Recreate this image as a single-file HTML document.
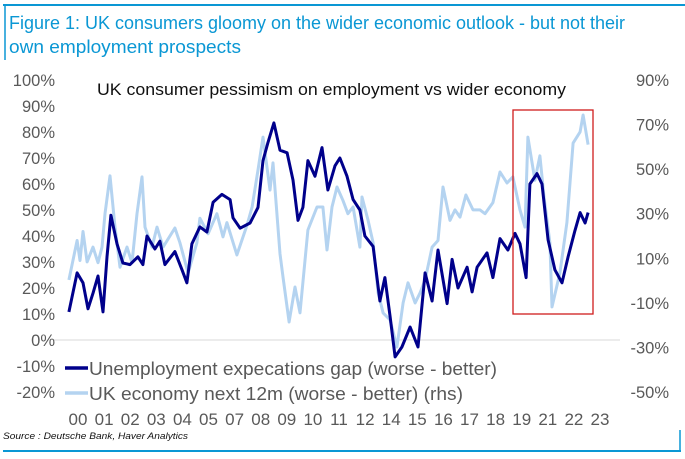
<!DOCTYPE html>
<html><head><meta charset="utf-8">
<style>
html,body{margin:0;padding:0;background:#fff;width:685px;height:459px;overflow:hidden;font-family:"Liberation Sans",sans-serif;}
svg text{font-family:"Liberation Sans",sans-serif;}
</style></head>
<body>
<svg id="chart" width="685" height="459" viewBox="0 0 685 459" xmlns="http://www.w3.org/2000/svg">
  <line x1="3" y1="5" x2="685" y2="5" stroke="#0a97d4" stroke-width="2"/>
  <line x1="5" y1="5" x2="5" y2="60" stroke="#0a97d4" stroke-width="1.5"/>
  <text x="9" y="29" font-size="18" fill="#0a97d4" textLength="616" lengthAdjust="spacingAndGlyphs">Figure 1: UK consumers gloomy on the wider economic outlook - but not their</text>
  <text x="9" y="53" font-size="18" fill="#0a97d4" textLength="232" lengthAdjust="spacingAndGlyphs">own employment prospects</text>
  <text x="97" y="95" font-size="17" fill="#111" textLength="469" lengthAdjust="spacingAndGlyphs">UK consumer pessimism on employment vs wider economy</text>
  <g id="axes"></g>
  <g id="series"></g>
  <rect x="513" y="110" width="80" height="204" fill="none" stroke="#d01c1c" stroke-width="1.3"/>
  <g>
    <line x1="65" y1="368" x2="88" y2="368" stroke="#00008b" stroke-width="3.5"/>
    <text x="89" y="375" font-size="18" fill="#595959" textLength="408" lengthAdjust="spacingAndGlyphs">Unemployment expecations gap (worse - better)</text>
    <line x1="65" y1="393" x2="88" y2="393" stroke="#b4d3f0" stroke-width="3.5"/>
    <text x="89" y="400" font-size="18" fill="#595959" textLength="374" lengthAdjust="spacingAndGlyphs">UK economy next 12m (worse - better) (rhs)</text>
  </g>
  <text x="3" y="439" font-size="9.5" font-style="italic" fill="#111" textLength="185" lengthAdjust="spacingAndGlyphs">Source : Deutsche Bank, Haver Analytics</text>
  <line x1="3" y1="451" x2="681" y2="451" stroke="#0a97d4" stroke-width="2"/>
  <line x1="680" y1="430" x2="680" y2="451" stroke="#0a97d4" stroke-width="1.5"/>
</svg>
<script>
const leftTicks = [100,90,80,70,60,50,40,30,20,10,0,-10,-20];
const rightTicks = [90,70,50,30,10,-10,-30,-50];
const xLabels = ["00","01","02","03","04","05","07","08","09","10","11","12","14","15","16","17","18","19","21","22","23"];
const unempTimes = [0.04,0.40,0.66,0.88,1.10,1.32,1.54,1.72,1.89,2.16,2.42,2.73,3.08,3.30,3.48,3.83,4.05,4.27,4.71,5.02,5.24,5.46,5.81,6.12,6.39,6.78,7.14,7.27,7.58,8.02,8.37,8.59,8.81,9.07,9.34,9.65,9.91,10.13,10.35,10.57,10.88,11.19,11.45,11.76,11.98,12.29,12.56,12.86,13.08,13.44,13.74,13.96,14.19,14.41,14.71,15.07,15.42,15.73,16.04,16.30,16.70,16.92,17.18,17.58,17.80,18.02,18.46,18.72,19.03,19.38,19.69,19.91,20.18,20.35,20.66,20.88,21.15,21.45,21.76,22.03,22.33,22.56,22.78,22.91];
const unempValues = [10.8,25.8,22,12,18,24.6,10.8,32,48,37,29.6,29,32,29,40,35,38,29,34,27,22,37,43.5,41.5,53,56,54,47,43,45,51,69,76,83.5,73,72,61.5,46,51,69,63,74,57.7,67,70,63,54,50,40,36,15,24,9,-6.5,-2.7,5,-2.7,25.8,15,34.6,14,31,20,28,18.5,28,33.5,24,39,34.6,41,37,24,60,64,60,38.5,27,22,32,42,49,45,49];
const econTimes = [0.04,0.40,0.53,0.66,0.84,1.10,1.32,1.50,1.63,1.85,2.07,2.29,2.60,2.82,3.04,3.26,3.39,3.70,3.92,4.19,4.71,4.93,5.29,5.68,5.81,6.17,6.56,6.83,7.00,7.44,7.89,8.11,8.37,8.59,8.90,9.03,9.34,9.47,9.74,10.00,10.22,10.57,10.97,11.23,11.41,11.63,11.85,12.11,12.33,12.56,12.86,12.95,13.22,13.44,13.66,13.88,14.19,14.49,14.76,14.98,15.29,15.51,15.73,16.04,16.30,16.52,16.83,17.05,17.27,17.53,17.84,18.15,18.37,18.72,19.03,19.34,19.60,19.91,20.13,20.26,20.57,20.79,20.97,21.23,21.32,21.67,21.98,22.25,22.56,22.69,22.91];
const econValues = [0.3,18,9,22,8.4,15,8,15,30,47,24,6,15,8,30,46.5,24,15,24,15,23.6,17,3.4,17,28,21,30,19.6,26,11.5,25,33,49.6,64.4,40.6,52.8,12,1.6,-18.6,-2.9,-14.5,22.7,33,33,13.7,33,42,36,30,33,15,37.5,27,17,-5.5,-14.5,-17.7,-29.8,-10,-1,-10,-5.5,0.3,15,18,42,27,31.7,28.5,38.4,31.7,31.7,30,35,48.7,43.8,46.5,31.7,24,64.4,45,56,37.5,17,-11.8,3.4,26,61.7,66.7,74.3,61];

const NS = "http://www.w3.org/2000/svg";
const xScale = t => 68 + t * 22.7;
const yLeft = v => 340 - v * 2.6;
const yRight = v => 80 + (90 - v) * (312 / 140);
const axes = document.getElementById('axes');
const series = document.getElementById('series');

function mk(tag, attrs, parent) {
  const el = document.createElementNS(NS, tag);
  for (const k in attrs) el.setAttribute(k, attrs[k]);
  parent.appendChild(el);
  return el;
}

const zl = mk('line', {x1: 53, x2: 620, y1: yLeft(0), y2: yLeft(0), stroke: '#d9d9d9', 'stroke-width': 1}, axes);



leftTicks.forEach(v => {
  const t = mk('text', {x: 55, y: yLeft(v) + 6, 'text-anchor': 'end', 'font-size': 16.5, fill: '#595959'}, axes);
  t.textContent = v + '%';
  
  
});
rightTicks.forEach(v => {
  const t = mk('text', {x: 669, y: yRight(v) + 6, 'text-anchor': 'end', 'font-size': 16.5, fill: '#595959'}, axes);
  t.textContent = v + '%';
  
  
});
xLabels.forEach((l, i) => {
  const t = mk('text', {x: 78 + i * 26.1, y: 425, 'text-anchor': 'middle', 'font-size': 17, fill: '#595959'}, axes);
  t.textContent = l;
  
  
});

function pathFrom(times, vals, yf) {
  return times.map((t, i) => (i ? 'L' : 'M') + xScale(t).toFixed(1) + ',' + yf(vals[i]).toFixed(1)).join(' ');
}
const econ = mk('path', {d: pathFrom(econTimes, econValues, yRight), fill: 'none', stroke: '#b4d3f0', 'stroke-width': 3, 'stroke-linejoin': 'round'}, series);


const unemp = mk('path', {d: pathFrom(unempTimes, unempValues, yLeft), fill: 'none', stroke: '#00008b', 'stroke-width': 3, 'stroke-linejoin': 'round'}, series);


</script>
</body></html>
